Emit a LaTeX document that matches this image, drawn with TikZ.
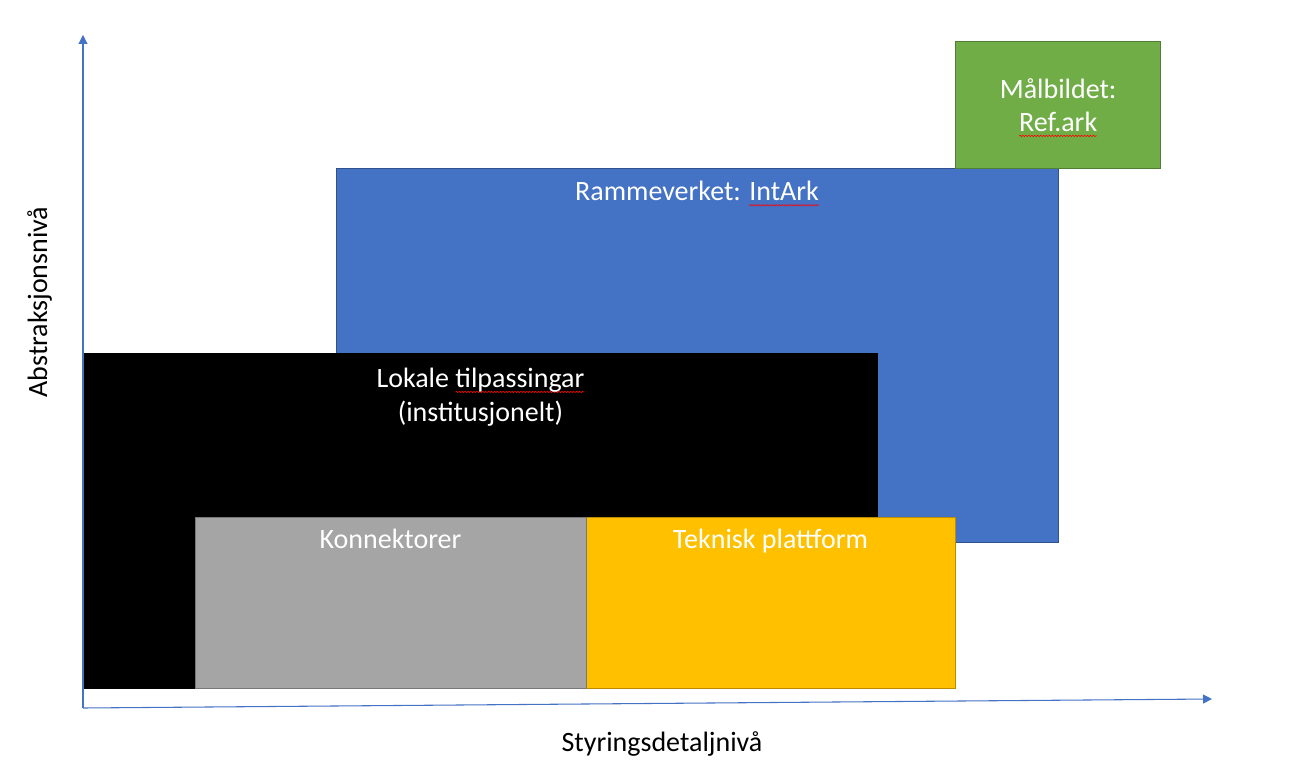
\documentclass[tikz,border=0pt]{standalone}
\usepackage{fontspec}
\setmainfont{Carlito}
\usetikzlibrary{arrows.meta,positioning,decorations.pathmorphing}

\definecolor{rammeblue}{HTML}{4472C4}
\definecolor{rammeedge}{HTML}{2F528F}
\definecolor{maalgreen}{HTML}{70AD47}
\definecolor{maaledge}{HTML}{507E32}
\definecolor{konngrey}{HTML}{A5A5A5}
\definecolor{konnedge}{HTML}{787878}
\definecolor{plattyellow}{HTML}{FFC000}
\definecolor{plattedge}{HTML}{BC8C00}

% red wavy mark under words, as in the original slide
\newsavebox{\spellbox}
\newcommand{\spellerr}[1]{\sbox{\spellbox}{#1}\leavevmode\rlap{\tikz[overlay]\draw[red, line width=0.45pt, decorate, decoration={snake, amplitude=0.5pt, segment length=2.2pt}] (0pt,-3.2pt) -- (\wd\spellbox,-3.2pt);}\usebox{\spellbox}}

\begin{document}
\begin{tikzpicture}[x=0.75pt, y=-0.75pt, >={Triangle[length=6.75pt, width=6.75pt]},
	every node/.style={font=\fontsize{21}{25}\selectfont},
	box/.style={draw, line width=1pt, anchor=north west, inner sep=0pt},
	lbl/.style={text=white, anchor=base, align=center, inner sep=0pt},
	axis/.style={draw=rammeblue, line width=0.8pt}]
	\useasboundingbox (0,0) rectangle (1289,781);

	\node[box, fill=rammeblue, draw=rammeedge, minimum width=541.5pt, minimum height=280.5pt] (ramme) at (336,168) {};
	\node[box, fill=maalgreen, draw=maaledge, minimum width=153.75pt, minimum height=95.25pt, text=white, align=center] (maal) at (955,41) {Målbildet:\\\spellerr{Ref.ark}};
	\node[box, fill=black, draw=black, minimum width=594.75pt, minimum height=251.25pt] (lokal) at (84,353) {};
	\node[box, fill=plattyellow, draw=plattedge, minimum width=276.75pt, minimum height=128.25pt] (platt) at (586,517) {};
	\node[box, fill=konngrey, draw=konnedge, minimum width=293.25pt, minimum height=128.25pt] (konn) at (195,517) {};

	\node[lbl] (rammetxt) at (697,201) {Rammeverket: \spellerr{IntArk}};
	\node[lbl] (lokaltxt) at (480.5,421) {Lokale \spellerr{tilpassingar}\\(institusjonelt)};
	\node[lbl] (konntxt) at (390.5,548) {Konnektorer};
	\node[lbl] (platttxt) at (770.5,548) {Teknisk plattform};

	% axes
	\coordinate (origo) at (83,708);
	\coordinate (ytopp) at (83,35);
	\coordinate (xende) at (1212,699);
	\draw[axis, ->] (origo) -- (ytopp);
	\draw[axis, ->] (origo) -- (xende);
	\node[anchor=base, rotate=90, inner sep=0pt] (ylabel) at (47,302) {Abstraksjonsnivå};
	\node[anchor=base, inner sep=0pt] (xlabel) at (662,751) {Styringsdetaljnivå};
\end{tikzpicture}
\end{document}
